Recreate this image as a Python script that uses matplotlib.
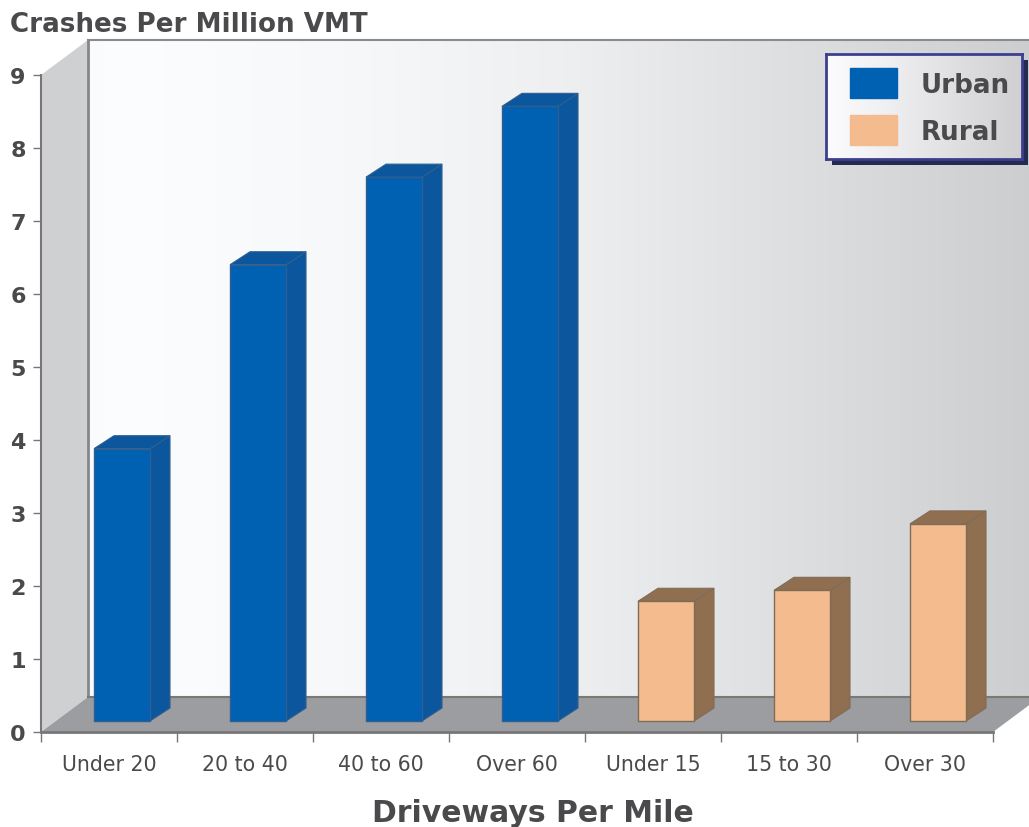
import matplotlib
matplotlib.use("Agg")
import matplotlib.pyplot as plt
from matplotlib.patches import Patch
import numpy as np

categories = ["Under 20", "20 to 40", "40 to 60", "Over 60", "Under 15", "15 to 30", "Over 30"]
areas = ["Urban", "Urban", "Urban", "Urban", "Rural", "Rural", "Rural"]
crashes = [3.73, 6.25, 7.45, 8.42, 1.64, 1.79, 2.7]
yticks = [0, 1, 2, 3, 4, 5, 6, 7, 8, 9]

W, H = 1029, 828
# pixel box of the front plane
X0, X1, Y0, Y9 = 41, 993, 733, 76
TEXT = "#4a4a4c"
FACE = {"Urban": "#0060B2", "Rural": "#F4BC8E"}
SIDE = {"Urban": "#0B569C", "Rural": "#8F6F50"}
EDGE = {"Urban": "#2F5F8F", "Rural": "#7f6c58"}

fig = plt.figure(figsize=(W / 100, H / 100), dpi=100, facecolor="white")
ax = fig.add_axes([X0 / W, 1 - Y0 / H, (X1 - X0) / W, (Y0 - Y9) / H])
xlim = (-0.5, 6.5)
ylim = (0, 9)
px_x = (xlim[1] - xlim[0]) / (X1 - X0)
px_y = (ylim[1] - ylim[0]) / (Y0 - Y9)

# depth of the walls and of the bars, in data units
wall_dx, wall_dy = 47 * px_x, 35 * px_y
bar_dx, bar_dy = 20 * px_x, 13 * px_y
base = 11 * px_y
bar_w = 56 * px_x
bar_shift = 13 * px_x

# back wall with its gradient
grad = np.interp(np.linspace(0, 1, 400), [0, 0.03, 0.27, 0.5, 0.75, 1], [250, 252, 247, 238, 221, 204])
rgb = np.dstack([grad, grad + 1, grad + 2]) / 255
right = xlim[1] + wall_dx
ax.imshow(rgb.clip(0, 1), extent=(xlim[0] + wall_dx, right, wall_dy, ylim[1] + wall_dy),
          aspect="auto", zorder=0, clip_on=False)
ax.plot([xlim[0] + wall_dx, right], [ylim[1] + wall_dy] * 2, color="#8b8b8d", lw=1.5, zorder=1, clip_on=False)

# left wall and floor
ax.fill([xlim[0], xlim[0] + wall_dx, xlim[0] + wall_dx, xlim[0]],
        [0, wall_dy, ylim[1] + wall_dy, ylim[1]], color="#CFD0D2", lw=0, zorder=1, clip_on=False)
ax.plot([xlim[0] + wall_dx] * 2, [wall_dy, ylim[1] + wall_dy], color="#87878a", lw=2, zorder=1.5, clip_on=False)
ax.fill([xlim[0], xlim[0] + wall_dx, right, xlim[1]], [0, wall_dy, wall_dy, 0],
        color="#9C9DA1", lw=0, zorder=2, clip_on=False)
ax.plot([xlim[0] + wall_dx, right], [wall_dy, wall_dy], color="#7b7876", lw=1.5, zorder=2, clip_on=False)

# bars: front face through ax.bar, depth faces from the same values
xs = np.arange(len(categories)) + bar_shift
for x, val, area in zip(xs, crashes, areas):
    left, rgt = x - bar_w / 2, x + bar_w / 2
    top = base + val
    ax.fill([rgt, rgt + bar_dx, rgt + bar_dx, rgt], [base, base + bar_dy, top + bar_dy, top],
            facecolor=SIDE[area], edgecolor=EDGE[area], lw=0.8, zorder=3, clip_on=False)
    ax.fill([left, left + bar_dx, rgt + bar_dx, rgt], [top, top + bar_dy, top + bar_dy, top],
            facecolor=SIDE[area], edgecolor=EDGE[area], lw=0.8, zorder=3, clip_on=False)
    ax.bar(x, val, width=bar_w, bottom=base, color=FACE[area], edgecolor=EDGE[area], lw=1, zorder=4, clip_on=False)

ax.set_xlim(*xlim)
ax.set_ylim(*ylim)
for s in ["top", "right"]:
    ax.spines[s].set_visible(False)
for s in ["left", "bottom"]:
    ax.spines[s].set_color("#77777a")
    ax.spines[s].set_zorder(5)
ax.spines["bottom"].set_linewidth(2)
ax.spines["left"].set_linewidth(1.5)

ax.set_yticks(yticks)
ax.set_xticks(range(len(categories)))
ax.set_xticklabels(categories)
ax.set_xticks(np.arange(len(categories) + 1) - 0.5, minor=True)
ax.tick_params(axis="x", which="major", length=0, pad=16, labelsize=14.8, labelcolor=TEXT)
ax.tick_params(axis="x", which="minor", length=7, width=1, color="#77777a")
ax.tick_params(axis="y", length=6, width=1, color="#77777a", pad=5, labelsize=16, labelcolor=TEXT)
for lab in ax.get_yticklabels():
    lab.set_fontweight("bold")
ax.set_xlabel("Driveways Per Mile", fontsize=21.5, fontweight="bold", color=TEXT)
ax.xaxis.set_label_coords((533 - X0) / (X1 - X0), -(814 - Y0) / (Y0 - Y9), transform=ax.transAxes)
ax.xaxis.label.set_verticalalignment("center")
fig.text(10 / W, 1 - 25 / H, "Crashes Per Million VMT", fontsize=18.8, fontweight="bold", color=TEXT, ha="left", va="center")

# legend box with shadow
sh = fig.add_axes([832 / W, 1 - 166 / H, 196 / W, 105 / H])
sh.set_xticks([])
sh.set_yticks([])
sh.set_facecolor("#232B50")
for s in sh.spines.values():
    s.set_visible(False)
box = fig.add_axes([826 / W, 1 - 160 / H, 196 / W, 105 / H])
g = np.interp(np.linspace(0, 1, 200), [0, 0.3, 1], [252, 240, 208])
box.imshow(np.dstack([g, g, g + 2]).clip(0, 255) / 255 * np.ones((2, 200, 3)), aspect="auto")
box.set_xticks([])
box.set_yticks([])
for s in box.spines.values():
    s.set_color("#3D3F8C")
    s.set_linewidth(2)
handles = [Patch(color=FACE["Urban"], label="Urban"), Patch(color=FACE["Rural"], label="Rural")]
box.legend(handles=handles, loc="center left", bbox_to_anchor=(0.122, 0.5), frameon=False, borderpad=0,
           borderaxespad=0, handlelength=1.79, handleheight=1.42, handletextpad=0.93, labelspacing=0.62,
           prop={"size": 18.8, "weight": "bold"}, labelcolor=TEXT)

fig.savefig("out.png", dpi=100)
